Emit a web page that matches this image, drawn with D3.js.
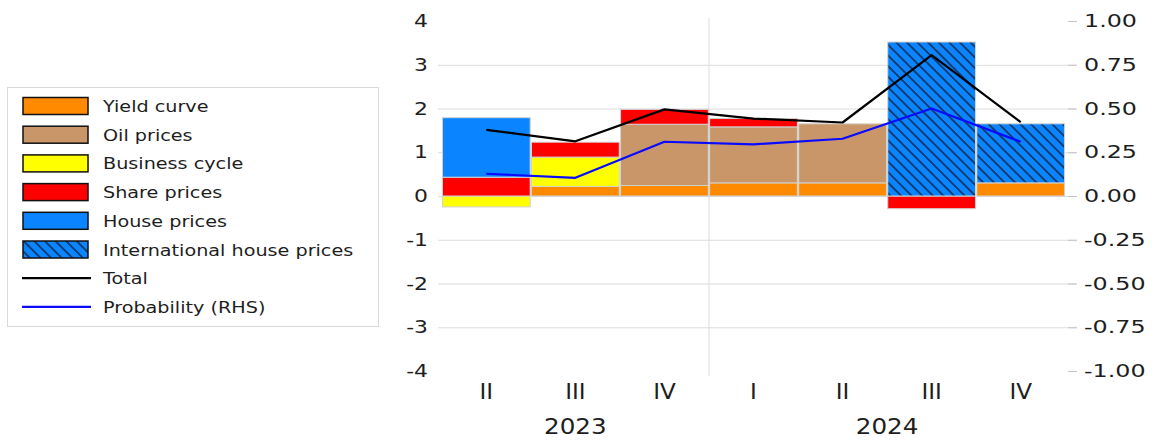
<!DOCTYPE html>
<html>
<head>
<meta charset="utf-8">
<script src="https://cdn.jsdelivr.net/npm/d3@7"></script>
<style>
  html, body { margin: 0; padding: 0; background: #fff; }
  svg { display: block; }
</style>
</head>
<body>
<svg id="chart" width="1153" height="441"></svg>
<script>
// ---- data ----
const categories = ["II", "III", "IV", "I", "II", "III", "IV"];
const years = ["2023", "2024"];
const yearFirst = [0, 3];
const yearLast = [2, 6];

const seriesNames = ["Yield curve", "Oil prices", "Business cycle", "Share prices", "House prices", "International house prices"];
const yieldCurve      = [0.00, 0.22, 0.24, 0.30, 0.30, 0.00, 0.30];
const oilPrices       = [0.00, 0.00, 1.40, 1.28, 1.35, 0.00, 0.00];
const businessCycle   = [-0.25, 0.67, 0.00, 0.00, 0.00, 0.00, 0.00];
const sharePrices     = [0.43, 0.34, 0.34, 0.19, 0.00, -0.29, 0.00];
const housePrices     = [1.36, 0.00, 0.00, 0.00, 0.00, 0.00, 0.00];
const intlHousePrices = [0.00, 0.00, 0.00, 0.00, 0.00, 3.52, 1.35];
const total           = [1.51, 1.25, 1.98, 1.77, 1.68, 3.22, 1.69];
const probability     = [0.127, 0.104, 0.31, 0.295, 0.327, 0.50, 0.31];

const leftTicks  = [4, 3, 2, 1, 0, -1, -2, -3, -4];
const gridTicks  = [3, 2, 1, 0, -1, -2, -3];
const rightTicks = [1, 0.75, 0.5, 0.25, 0, -0.25, -0.5, -0.75, -1];

// ---- styling ----
const colors = ["#ff8a00", "#c9966a", "#ffff00", "#ff0000", "#0a84ff", "url(#hatch)"];
const font = "DejaVu Sans, Verdana, sans-serif";
const textColor = "#1e1e1e";
const gridColor = "#dcdcdc";

const svg = d3.select("#chart");

// hatched fill for international house prices
const defs = svg.append("defs");
const pat = defs.append("pattern")
  .attr("id", "hatch")
  .attr("patternUnits", "userSpaceOnUse")
  .attr("width", 8).attr("height", 7.5)
  .attr("patternTransform", "rotate(45)");
pat.append("rect").attr("width", 8).attr("height", 7.5).attr("fill", "#0a84ff");
pat.append("line").attr("x1", -1).attr("x2", 9).attr("y1", 3.75).attr("y2", 3.75)
  .attr("stroke", "#10284a").attr("stroke-width", 1.5);

// ---- scales ----
const x = d3.scaleBand().domain(d3.range(categories.length)).range([442, 1065]).paddingInner(0.015).paddingOuter(0.005);
const y = d3.scaleLinear().domain([-4, 4]).range([371, 21]);
const yR = d3.scaleLinear().domain([-1, 1]).range([371, 21]);

// plain hyphen for negative numbers
const fmtInt = d => String(d);
const fmt2 = d => d.toFixed(2);

// horizontally widen a text element about its anchor point
function widen(sel, sx) {
  sel.each(function () {
    const t = d3.select(this);
    const tx = +t.attr("x") || 0, ty = +t.attr("y") || 0;
    t.attr("x", 0).attr("y", 0).attr("transform", `translate(${tx},${ty}) scale(${sx},1)`);
  });
}

// ---- gridlines ----
const grid = svg.append("g").attr("transform", "translate(438,0)")
  .call(d3.axisLeft(y).tickValues(gridTicks).tickSize(-(1076 - 438)).tickFormat(""));
grid.select(".domain").remove();
grid.selectAll("line").attr("stroke", gridColor).attr("stroke-width", 1);

// separator between years
const sepX = x(yearLast[0]) + x.step() - x.step() * x.paddingInner() / 2;
svg.append("line")
  .attr("x1", sepX).attr("x2", sepX).attr("y1", 18).attr("y2", 376)
  .attr("stroke", gridColor).attr("stroke-width", 1);

// ---- stacked bars ----
const rows = categories.map((c, i) => ({
  i,
  "Yield curve": yieldCurve[i],
  "Oil prices": oilPrices[i],
  "Business cycle": businessCycle[i],
  "Share prices": sharePrices[i],
  "House prices": housePrices[i],
  "International house prices": intlHousePrices[i]
}));
const stacked = d3.stack().keys(seriesNames).offset(d3.stackOffsetDiverging)(rows);

svg.append("g").selectAll("g")
  .data(stacked)
  .join("g")
  .attr("fill", (d, k) => colors[k])
  .selectAll("rect")
  .data(d => d.filter(s => s[1] - s[0] !== 0))
  .join("rect")
  .attr("x", d => x(d.data.i))
  .attr("width", x.bandwidth())
  .attr("y", d => y(Math.max(d[0], d[1])))
  .attr("height", d => Math.abs(y(d[0]) - y(d[1])))
  .attr("stroke", "#d2d2d2")
  .attr("stroke-width", 1);

// ---- lines ----
const cx = i => x(i) + x.bandwidth() / 2;
svg.append("path")
  .datum(total)
  .attr("fill", "none").attr("stroke", "#000").attr("stroke-width", 2.2)
  .attr("stroke-linejoin", "round")
  .attr("d", d3.line().x((d, i) => cx(i)).y(d => y(d)));
svg.append("path")
  .datum(probability)
  .attr("fill", "none").attr("stroke", "#0a0aff").attr("stroke-width", 2.2)
  .attr("stroke-linejoin", "round")
  .attr("d", d3.line().x((d, i) => cx(i)).y(d => yR(d)));

// ---- left axis ----
const ax = svg.append("g").attr("transform", "translate(438,0)")
  .call(d3.axisLeft(y).tickValues(leftTicks).tickSize(0).tickPadding(10).tickFormat(fmtInt));
ax.select(".domain").remove();
ax.selectAll("text").attr("font-family", font).attr("font-size", 17.5).attr("fill", textColor);
widen(ax.selectAll("text"), 1.25);

// ---- right axis ----
const axR = svg.append("g").attr("transform", "translate(1068,0)")
  .call(d3.axisRight(yR).tickValues(rightTicks).tickSize(9).tickPadding(7).tickFormat(fmt2));
axR.select(".domain").remove();
axR.selectAll("line").attr("stroke", "#c4c4c4");
axR.selectAll("text").attr("font-family", font).attr("font-size", 17.5).attr("fill", textColor);
widen(axR.selectAll("text"), 1.36);

// ---- category axis ----
const axX = svg.append("g").attr("transform", "translate(0,371)")
  .call(d3.axisBottom(x).tickSize(0).tickFormat(i => categories[i]));
axX.select(".domain").remove();
axX.selectAll("text").attr("font-family", font).attr("font-size", 21).attr("fill", textColor)
  .attr("dy", null).attr("y", 28);
widen(axX.selectAll("text"), 1.1);

const yearG = svg.append("g");
yearG.selectAll("text")
  .data(years)
  .join("text")
  .attr("x", (d, k) => (cx(yearFirst[k]) + cx(yearLast[k])) / 2)
  .attr("y", 434)
  .attr("text-anchor", "middle")
  .attr("font-family", font).attr("font-size", 20.5).attr("fill", textColor)
  .text(d => d);
widen(yearG.selectAll("text"), 1.2);

// ---- legend ----
const legend = svg.append("g");
legend.append("rect")
  .attr("x", 7.5).attr("y", 87.5).attr("width", 371).attr("height", 239)
  .attr("fill", "#fff").attr("stroke", "#d9d9d9").attr("stroke-width", 1);

const legendItems = seriesNames.map((n, k) => ({ name: n, type: "box", color: colors[k] }))
  .concat([{ name: "Total", type: "line", color: "#000" },
           { name: "Probability (RHS)", type: "line", color: "#0a0aff" }]);

const rowY = k => 106 + k * 28.7;
const li = legend.selectAll("g.item").data(legendItems).join("g").attr("class", "item");
li.filter(d => d.type === "box").append("rect")
  .attr("x", 23).attr("width", 65).attr("y", d => rowY(legendItems.indexOf(d)) - 8.5).attr("height", 17)
  .attr("fill", d => d.color).attr("stroke", "#111").attr("stroke-width", 1.5);
li.filter(d => d.type === "line").append("line")
  .attr("x1", 22).attr("x2", 91)
  .attr("y1", d => rowY(legendItems.indexOf(d))).attr("y2", d => rowY(legendItems.indexOf(d)))
  .attr("stroke", d => d.color).attr("stroke-width", 2.2);
li.append("text")
  .attr("x", 103).attr("y", d => rowY(legendItems.indexOf(d)) + 6)
  .attr("font-family", font).attr("font-size", 16).attr("fill", textColor)
  .text(d => d.name);
widen(legend.selectAll("text"), 1.2);
</script>
</body>
</html>
